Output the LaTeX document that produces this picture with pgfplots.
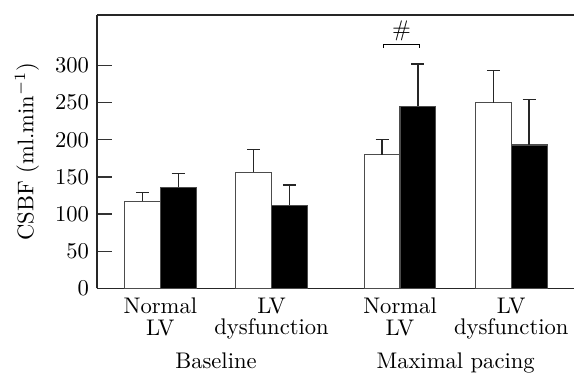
\documentclass[border=0pt]{standalone}
\usepackage{pgfplots}
\pgfplotsset{compat=1.18}
\begin{document}
\begin{tikzpicture}
\begin{axis}[
 scale only axis, width=210.9pt, height=121pt,
 xmin=-0.570, xmax=3.715, ymin=0, ymax=368,
 axis x line*=box, axis y line*=left,
 ytick={0,50,...,300},
 ytick align=inside, xtick align=inside, major tick length=6.6pt,
 y tick style={line width=0.6pt, black!80},
 xtick={0,1,2.155,3.155},
 xticklabels={{Normal\\LV},{LV\\dysfunction},{Normal\\LV},{LV\\dysfunction}},
 xticklabel style={align=center, font=\fontsize{10}{9.6}\selectfont, yshift=6pt},
 x tick style={draw=none},
 ylabel={CSBF (ml.min$^{-1}$)},
 ylabel style={at={(axis description cs:-0.147,0.5)}, anchor=center},
 axis line style={line width=0.6pt, black!85},
 ybar, bar width=0.322,
 clip=false,
]
\addplot[bar shift=0pt, fill=white, draw=black!70, line width=0.5pt,
  error bars/.cd, y dir=plus, y explicit,
  error bar style={black!85, line width=0.6pt},
  error mark options={rotate=90, mark size=2.9pt, black!85, line width=0.6pt}]
 coordinates {(-0.161,117) +- (0,12) (0.839,156) +- (0,31) (1.994,180) +- (0,20) (2.994,250) +- (0,43)};
\addplot[bar shift=0pt, fill=black, draw=black!70, line width=0.5pt,
  error bars/.cd, y dir=plus, y explicit,
  error bar style={black!85, line width=0.6pt},
  error mark options={rotate=90, mark size=2.9pt, black!85, line width=0.6pt}]
 coordinates {(0.161,136) +- (0,19) (1.161,112) +- (0,27) (2.316,245) +- (0,57) (3.316,193) +- (0,61)};
\draw[line width=0.5pt] (axis cs:2.008,324) -- (axis cs:2.008,328.7) -- (axis cs:2.330,328.7) -- (axis cs:2.330,324);
\node[anchor=center] at (axis cs:2.169,347) {\#};
\node[anchor=base] at (axis cs:0.5,0) [yshift=-35.6pt] {Baseline};
\node[anchor=base] at (axis cs:2.655,0) [yshift=-35.6pt] {Maximal pacing};
\end{axis}
\path (-42.9pt,-37.3pt) rectangle (210.9pt,127.5pt);
\end{tikzpicture}
\end{document}
